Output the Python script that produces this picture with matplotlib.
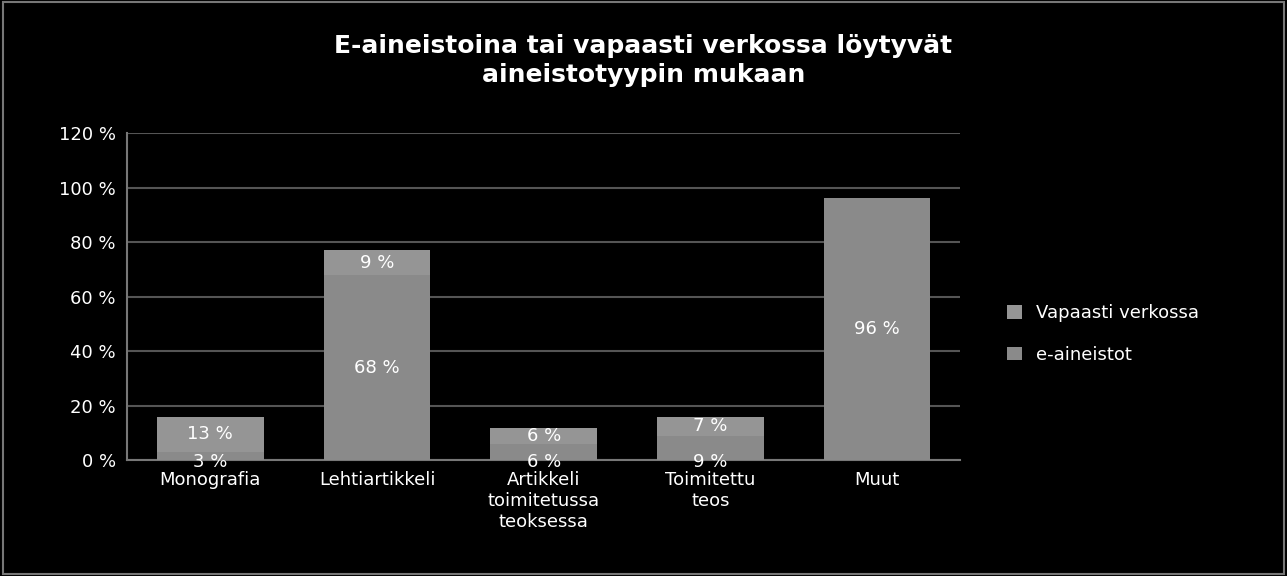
import matplotlib
matplotlib.use("Agg")
import matplotlib.pyplot as plt
from matplotlib.patches import Rectangle

categories = ["Monografia", "Lehtiartikkeli", "Artikkeli\ntoimitetussa\nteoksessa",
              "Toimitettu\nteos", "Muut"]
e_aineistot = [3, 68, 6, 9, 96]
vapaasti = [13, 9, 6, 7, 0]

fig = plt.figure(figsize=(12.87, 5.76), dpi=100, facecolor="black")
fig.patches.append(Rectangle((0.002, 0.004), 0.996, 0.992, transform=fig.transFigure,
                             fill=False, edgecolor="#777777", lw=1.5))
ax = fig.add_axes([0.0987, 0.201, 0.6475, 0.568], facecolor="black")

x = range(len(categories))
ax.bar(x, e_aineistot, width=0.64, color="#8a8a8a", label="e-aineistot", zorder=3)
ax.bar(x, vapaasti, width=0.64, bottom=e_aineistot, color="#959595",
       label="Vapaasti verkossa", zorder=3)

for i, (a, b) in enumerate(zip(e_aineistot, vapaasti)):
    if a:
        y = a / 2 if a > 10 else -0.5
        ax.text(i, y, f"{a} %", ha="center", va="center", color="white", fontsize=13, zorder=4)
    if b:
        ax.text(i, a + b / 2, f"{b} %", ha="center", va="center", color="white",
                fontsize=13, zorder=4)

ax.set_xlim(-0.5, 4.5)
ax.set_ylim(0, 120)
ax.set_yticks(range(0, 121, 20))
ax.set_yticklabels([f"{v} %" for v in range(0, 121, 20)], color="white", fontsize=13)
ax.set_xticks(list(x))
ax.set_xticklabels(categories, color="white", fontsize=13)
ax.tick_params(length=0, pad=8)
ax.grid(axis="y", color="#555555", lw=1.5, zorder=0)
for s in ("top", "right"):
    ax.spines[s].set_visible(False)
for s in ("left", "bottom"):
    ax.spines[s].set_color("#777777")
    ax.spines[s].set_linewidth(1.5)

handles, labels = ax.get_legend_handles_labels()
leg = fig.legend(handles[::-1], labels[::-1], loc="center left", bbox_to_anchor=(0.77, 0.42),
                 frameon=False, fontsize=13, labelspacing=1.3, handlelength=0.8,
                 handleheight=0.8)
for t in leg.get_texts():
    t.set_color("white")

fig.text(0.5, 0.895, "E-aineistoina tai vapaasti verkossa löytyvät\naineistotyypin mukaan",
         ha="center", va="center", color="white", fontsize=18, fontweight="bold",
         linespacing=1.3)

fig.savefig("out.png", dpi=100, facecolor="black")
